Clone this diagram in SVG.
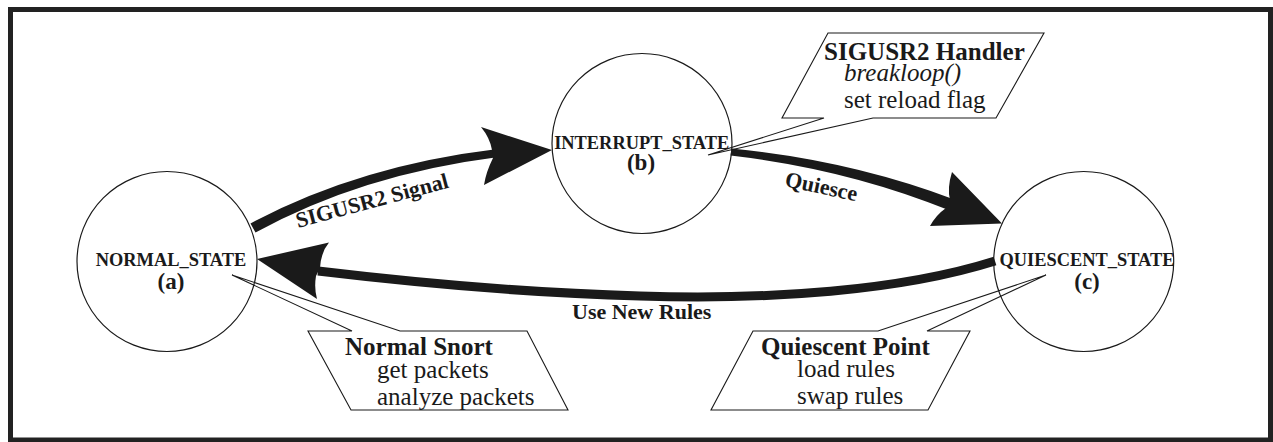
<svg xmlns="http://www.w3.org/2000/svg" width="1273" height="442" viewBox="0 0 1273 442">
<style>
text{font-family:"Liberation Serif","Times New Roman",serif;fill:#1a1a1a}
.frame{fill:#fff;stroke:#222;stroke-width:5}
.node circle{fill:none;stroke:#1a1a1a;stroke-width:1.2}
.nl{font-weight:bold;font-size:18.4px;text-anchor:middle}
.nid{font-weight:bold;font-size:23px;text-anchor:middle}
.shaft{fill:none;stroke:#1a1a1a;stroke-width:9}
.band{fill:#1a1a1a;stroke:none}
.head{fill:#1a1a1a;stroke:none}
.el{font-weight:bold;font-size:22px}
.callout path{fill:none;stroke:#1a1a1a;stroke-width:1.1}
.ct{font-size:25px}
.ctb{font-size:25px;font-weight:bold}
.cti{font-size:25px;font-style:italic}
</style>
<rect class="frame" x="10.5" y="9.5" width="1260" height="430.5"/>
<g id="connectors">
  <g id="edge-a-b">
    <path class="band" d="M250.5,223.4 Q358.65,165.6 497.5,149 L498.5,157 Q361.35,174.4 255.5,232.6 Z"/>
    <path class="head" d="M552,150 L481,127 Q490,138 492,150 L493,158 Q486,172 484,185 Z"/>
    <text class="el" transform="translate(298,228) rotate(-15)">SIGUSR2 Signal</text>
  </g>
  <g id="edge-b-c">
    <path class="band" d="M731.4,148.5 Q849.6,159.9 954.2,199.4 L949.8,210.6 Q847.4,169.1 730.6,155.5 Z"/>
    <path class="head" d="M1002,223.5 L952,172 Q947,188 950,200 L946,208 Q936,215 930,226 Z"/>
    <text class="el" transform="translate(784,186) rotate(12)">Quiesce</text>
  </g>
  <g id="edge-c-a">
    <path class="shaft" d="M995,261 C900,291 770,300 640,296 C530,293 410,282 318,271"/>
    <path class="head" d="M257,259 L329,242.5 Q321,252 320,268 L316,276 Q314,288 317,299 Z"/>
    <text class="el" x="572" y="319">Use New Rules</text>
  </g>
</g>
<g id="node-a" class="node">
  <circle cx="167" cy="261.5" r="90"/>
  <text class="nl" x="171" y="266">NORMAL_STATE</text>
  <text class="nid" x="171" y="289">(a)</text>
</g>
<g id="node-b" class="node">
  <circle cx="642" cy="143.5" r="90"/>
  <text class="nl" x="641.7" y="149">INTERRUPT_STATE</text>
  <text class="nid" x="641" y="170">(b)</text>
</g>
<g id="node-c" class="node">
  <circle cx="1083.7" cy="261.5" r="90"/>
  <text class="nl" x="1087" y="266">QUIESCENT_STATE</text>
  <text class="nid" x="1087" y="289">(c)</text>
</g>
<g id="callout-normal" class="callout">
  <path d="M308,331 L352,331 L232,275 L400,331 L527,331 L568,410 L351,410 Z"/>
  <text class="ctb" x="345" y="355">Normal Snort</text>
  <text class="ct" x="377" y="378">get packets</text>
  <text class="ct" x="377" y="405">analyze packets</text>
</g>
<g id="callout-handler" class="callout">
  <path d="M828,33 L1044,33 L996,118 L873,118 L708,155 L824,118 L782,118 Z"/>
  <text class="ctb" x="824" y="60">SIGUSR2 Handler</text>
  <text class="cti" x="844" y="81">breakloop()</text>
  <text class="ct" x="844" y="108">set reload flag</text>
</g>
<g id="callout-quiescent" class="callout">
  <path d="M753,331 L878,331 L1046,275 L927,331 L970,331 L928,410 L711,410 Z"/>
  <text class="ctb" x="761" y="355">Quiescent Point</text>
  <text class="ct" x="797" y="377">load rules</text>
  <text class="ct" x="797" y="404">swap rules</text>
</g>
</svg>
